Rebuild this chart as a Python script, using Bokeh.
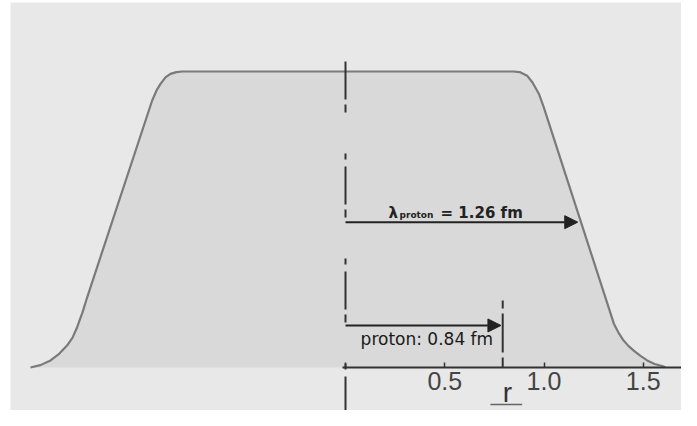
from bokeh.plotting import figure
from bokeh.models import LinearAxis, FixedTicker, Arrow, NormalHead
from bokeh.core.properties import value
from bokeh.embed import file_html
from bokeh.resources import INLINE

# density profile (r in fm, relative density)
r_curve = [-1.587, -1.537, -1.486, -1.446, -1.403, -1.375, -1.352, -1.325, -1.301,
           -0.974, -0.952, -0.932, -0.907, -0.882, -0.852, -0.823,
           0.846, 0.877, 0.915, 0.942, 0.974, 0.999,
           1.352, 1.375, 1.401, 1.425, 1.452, 1.486, 1.520, 1.557, 1.595, 1.612]
rho_curve = [0.0, 0.008, 0.024, 0.044, 0.074, 0.101, 0.136, 0.186, 0.238,
             0.902, 0.936, 0.958, 0.980, 0.992, 0.998, 1.0,
             1.0, 0.998, 0.986, 0.963, 0.925, 0.879,
             0.148, 0.118, 0.091, 0.073, 0.057, 0.039, 0.024, 0.012, 0.005, 0.001]

tick_values = [0, 0.5, 1.0, 1.5]
tick_labels = {0: "", 0.5: "0.5", 1.0: "1.0", 1.5: "1.5"}

lambda_end = 1.170      # drawn arrow length (fm)
lambda_level = 0.491
proton_end = 0.783
proton_level = 0.142
proton_marker = 0.792
proton_marker_top = 0.226

p = figure(width=681, height=410, output_backend="svg", toolbar_location=None,
           x_range=(-1.6877, 1.6927), y_range=(-0.1453, 1.2331),
           x_axis_type=None, y_axis_type=None,
           min_border_left=10, min_border_right=0, min_border_top=2, min_border_bottom=0)
p.grid.visible = False
p.outline_line_color = None
p.background_fill_color = "#e8e8e8"
p.border_fill_color = "white"

p.varea(x=r_curve, y1=0, y2=rho_curve, fill_color="#d9d9d9")
p.line(r_curve, rho_curve, line_color="#7a7a7a", line_width=2.2)

# axis at rho = 0
ax = LinearAxis(fixed_location=0, ticker=FixedTicker(ticks=tick_values),
                major_label_overrides=tick_labels, bounds=(-0.015, 1.75))
ax.axis_line_color = "#333333"
ax.axis_line_width = 2
ax.major_tick_in = 5
ax.major_tick_out = 0
ax.major_tick_line_color = "#333333"
ax.major_tick_line_width = 1.5
ax.minor_tick_line_color = None
ax.major_label_text_font = "Liberation Sans"
ax.major_label_text_font_size = "25px"
ax.major_label_text_color = "#444444"
ax.major_label_standoff = 5
p.add_layout(ax, "below")

# dash-dot centre line
p.line([0, 0], [1.034, -0.162], line_color="#333333", line_width=2,
       line_dash="38 5 8 41 6 7")
# proton radius marker
p.line([proton_marker, proton_marker], [proton_marker_top, 0], line_color="#333333",
       line_width=2, line_dash="8 5 39 5 12 40")

p.add_layout(Arrow(x_start=0, y_start=lambda_level, x_end=lambda_end, y_end=lambda_level,
                   line_color="#222222", line_width=2,
                   end=NormalHead(size=13, fill_color="#222222", line_color="#222222")))
p.add_layout(Arrow(x_start=0, y_start=proton_level, x_end=proton_end, y_end=proton_level,
                   line_color="#222222", line_width=2,
                   end=NormalHead(size=13, fill_color="#222222", line_color="#222222")))

p.text(x=[0.217], y=[0.5236], text=["λ"], text_font=value("DejaVu Sans"),
       text_font_style="bold", text_font_size="15px", text_color="#222222",
       text_baseline="alphabetic", text_align="left")
p.text(x=[0.272], y=[0.5159], text=["proton"], text_font=value("DejaVu Sans"),
       text_font_style="bold", text_font_size="9px", text_color="#222222",
       text_baseline="alphabetic", text_align="left")
p.text(x=[0.479], y=[0.5236], text=["= 1.26 fm"], text_font=value("DejaVu Sans"),
       text_font_style="bold", text_font_size="15px", text_color="#222222",
       text_baseline="alphabetic", text_align="left")
p.text(x=[0.076], y=[0.0973], text=["proton: 0.84 fm"], text_font=value("DejaVu Sans"),
       text_font_size="17px", text_color="#1a1a1a",
       text_baseline="alphabetic", text_align="left")

# axis title
p.text(x=[0.816], y=[-0.0831], text=["r"], text_font=value("Liberation Sans"),
       text_font_size="28px", text_color="#333333",
       text_baseline="alphabetic", text_align="center")
p.line([0.730, 0.890], [-0.125, -0.125], line_color="#666666", line_width=1.5)

open("out.html", "w").write(file_html(p, INLINE))
